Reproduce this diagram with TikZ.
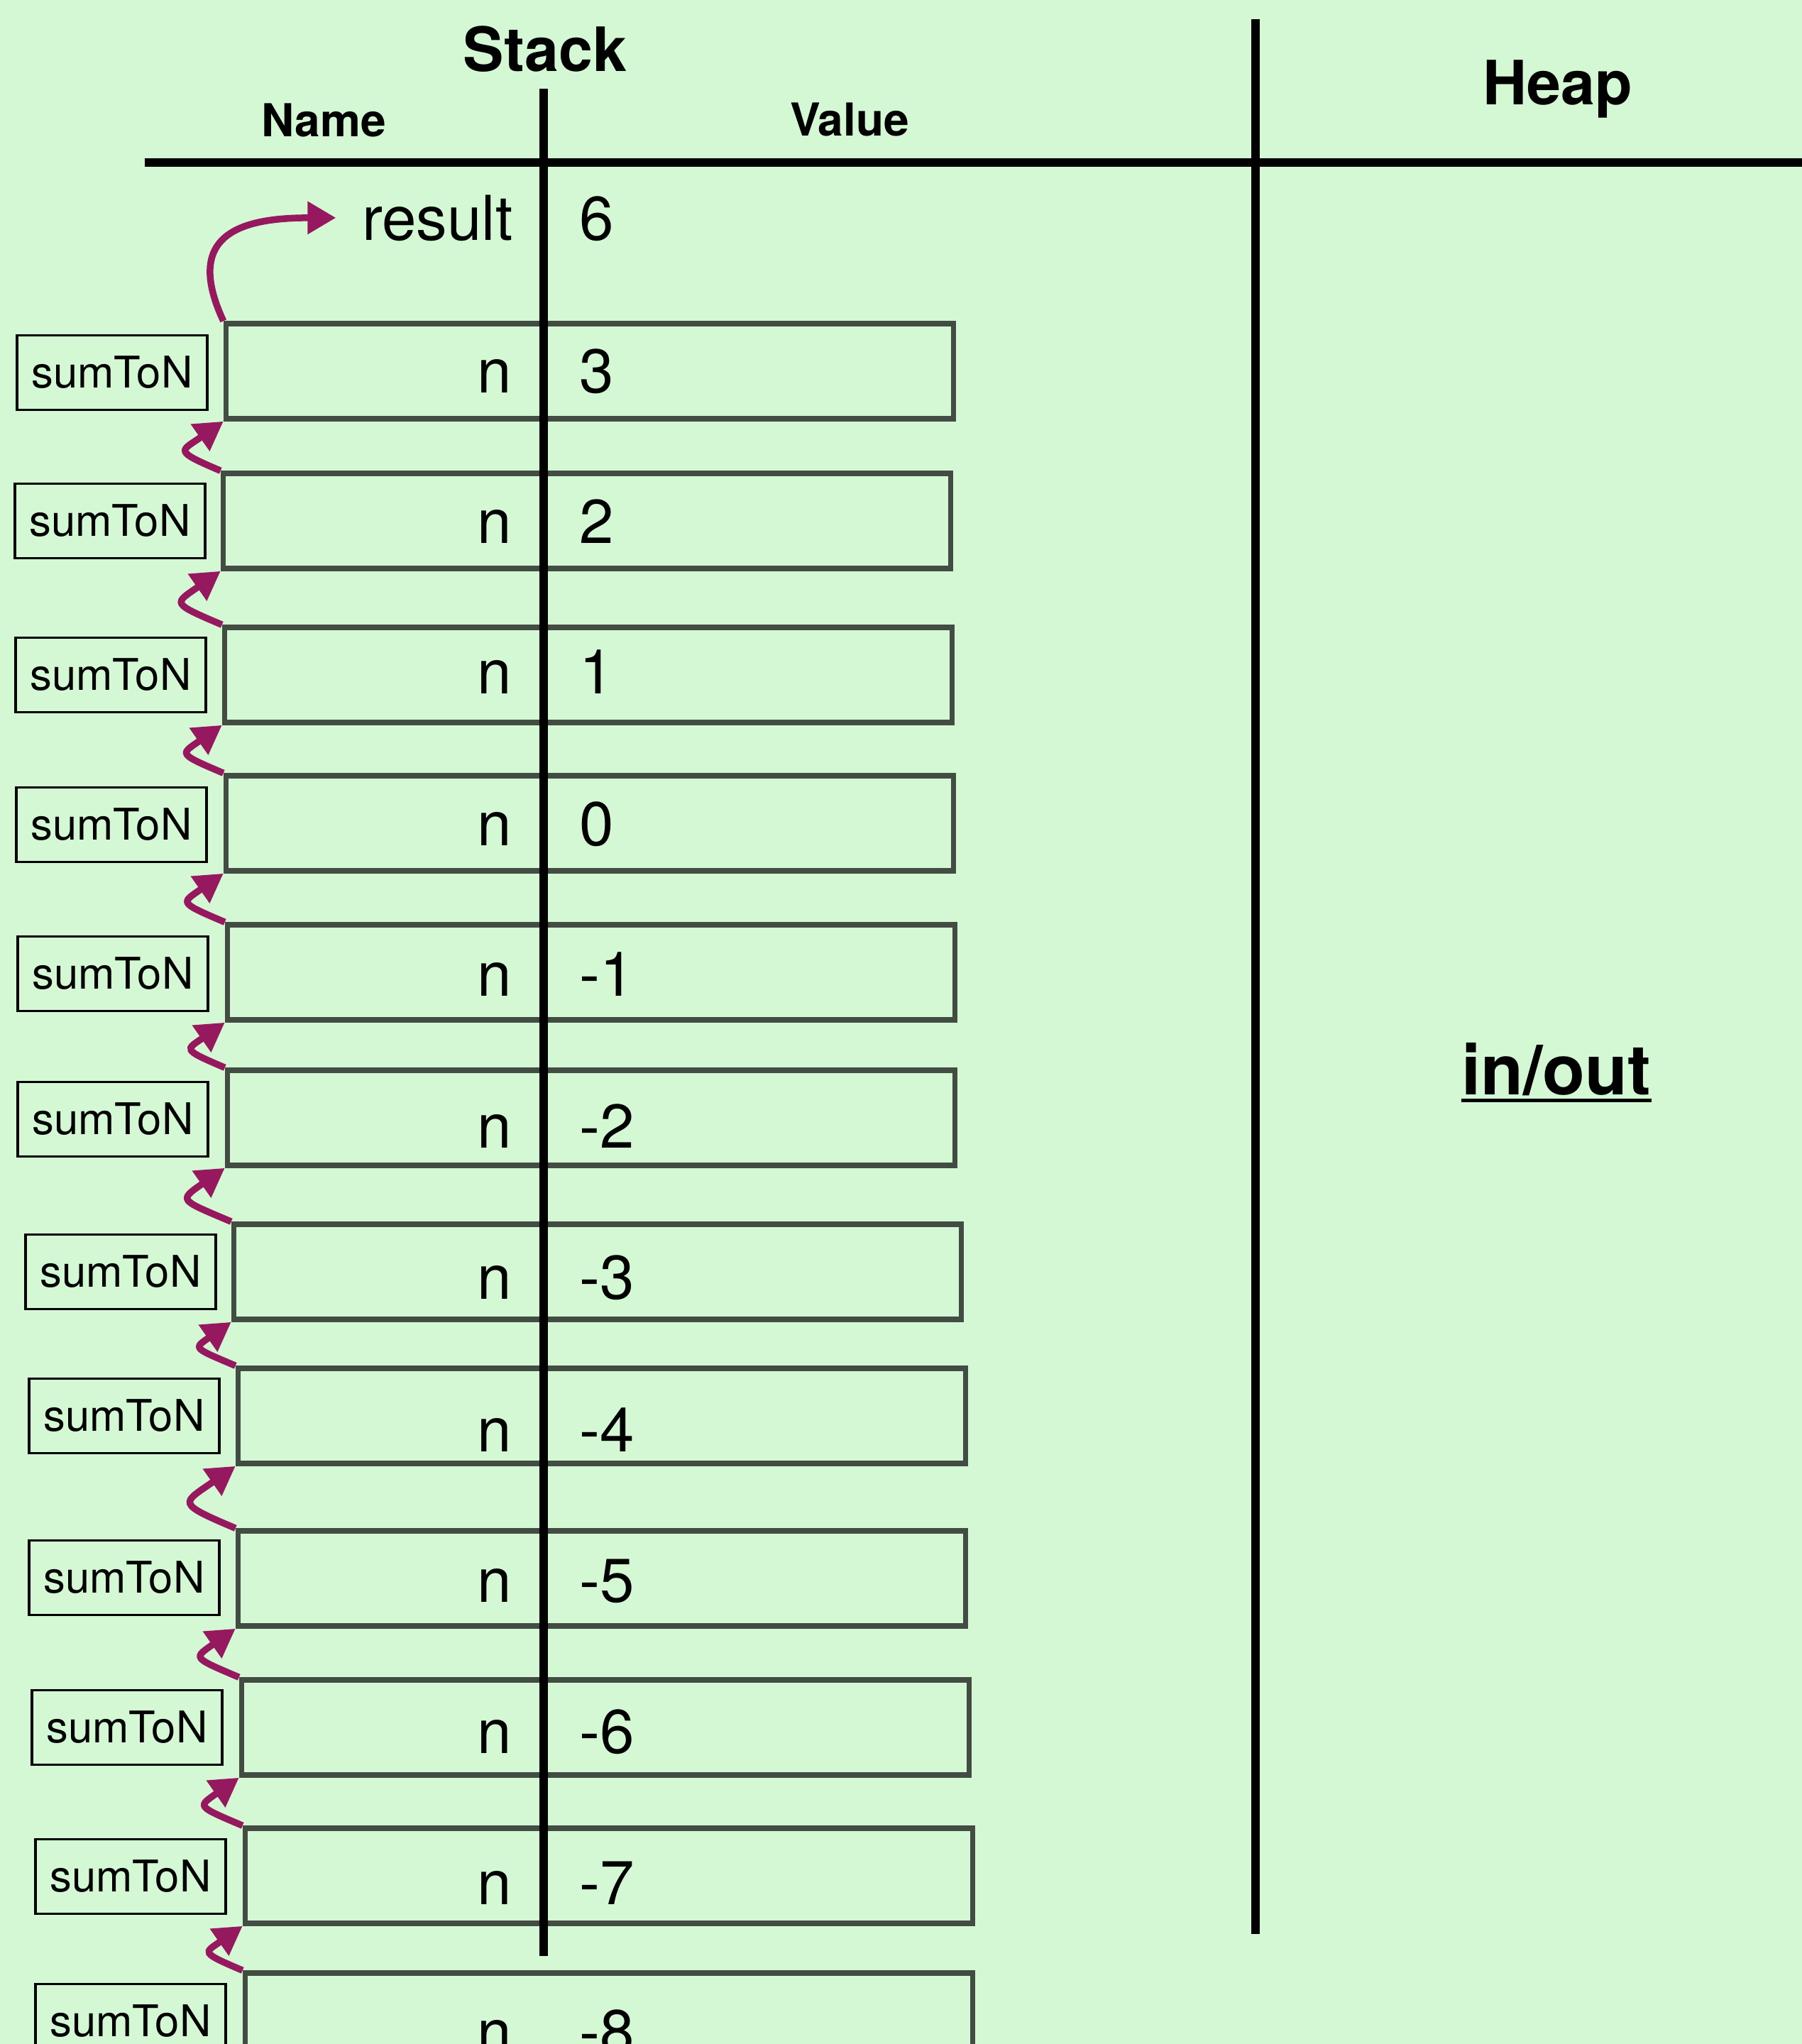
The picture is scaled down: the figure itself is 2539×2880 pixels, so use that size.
\documentclass[tikz,border=0pt]{standalone}
\usepackage{fontspec}
\setmainfont{TeX Gyre Heros}
\usepackage{tikz}
\usetikzlibrary{arrows.meta}
\definecolor{sheet}{RGB}{212,247,212}
\definecolor{framegray}{RGB}{66,76,66}
\definecolor{callpurple}{RGB}{150,24,94}

\begin{document}
\begin{tikzpicture}[
    x=0.1mm, y=0.1mm,
    font=\fontsize{24.8}{28}\selectfont,
    >={Triangle[length=4mm,width=4.4mm]},
    heading/.style={font=\fontsize{24.5}{28}\selectfont\bfseries, anchor=base, inner sep=0},
    colhead/.style={font=\fontsize{18.2}{21}\selectfont\bfseries, anchor=base, inner sep=0},
    frame/.style={rectangle, draw=framegray, line width=0.75mm, minimum width=102.5mm, minimum height=13.4mm, inner sep=0},
    fname/.style={rectangle, draw=black, line width=0.35mm, minimum width=26.8mm, minimum height=10.5mm, inner sep=0, font=\fontsize{17.5}{20}\selectfont},
    var/.style={anchor=base east, inner sep=0},
    val/.style={anchor=base west, inner sep=0},
    rule/.style={line width=1.2mm},
    call/.style={->, draw=callpurple, line width=0.95mm, looseness=2.7}
  ]
  \useasboundingbox (0,0) rectangle (2539,-2880);
  \clip (0,0) rectangle (2539,-2880);
  \fill[sheet] (0,0) rectangle (2539,-2880);

  \node[heading] (stack) at (768,-100) {Stack};
  \node[heading] (heap) at (2195,-147) {Heap};
  \node[colhead] (name) at (456,-192) {Name};
  \node[colhead] (value) at (1197,-191) {Value};
  \node[heading, font=\fontsize{27.9}{32}\selectfont\bfseries] (inout) at (2193,-1542) {in/out};
  \draw[line width=0.5mm] ([yshift=-0.85mm]inout.base west) -- ([yshift=-0.85mm]inout.base east);

  \draw[rule] (204,-229) -- (2539,-229);
  \draw[rule] (1769,-27) -- (1769,-2725);

  \node[var, inner xsep=3.6mm] (result) at (759,-338) {result};
  \node[val] (six) at (816,-338) {6};

  \node[frame] (f1) at (831,-523) {};
  \node[frame] (f2) at (827,-734) {};
  \node[frame] (f3) at (829,-951) {};
  \node[frame] (f4) at (831,-1160) {};
  \node[frame] (f5) at (833,-1370) {};
  \node[frame] (f6) at (833,-1575) {};
  \node[frame] (f7) at (842,-1792) {};
  \node[frame] (f8) at (848,-1995) {};
  \node[frame] (f9) at (848,-2224) {};
  \node[frame] (f10) at (853,-2434) {};
  \node[frame] (f11) at (858,-2643) {};
  \node[frame] (f12) at (858,-2847) {};

  \node[fname] (c1) at (158,-525) {sumToN};
  \node[fname] (c2) at (155,-734) {sumToN};
  \node[fname] (c3) at (156,-951) {sumToN};
  \node[fname] (c4) at (157,-1162) {sumToN};
  \node[fname] (c5) at (159,-1372) {sumToN};
  \node[fname] (c6) at (159,-1577) {sumToN};
  \node[fname] (c7) at (170,-1792) {sumToN};
  \node[fname] (c8) at (175,-1995) {sumToN};
  \node[fname] (c9) at (175,-2223) {sumToN};
  \node[fname] (c10) at (179,-2434) {sumToN};
  \node[fname] (c11) at (184,-2644) {sumToN};
  \node[fname] (c12) at (184,-2848) {sumToN};

  \node[var] (n1) at (722,-553) {n};    \node[val] (v1) at (816,-553) {3};
  \node[var] (n2) at (722,-765) {n};    \node[val] (v2) at (816,-765) {2};
  \node[var] (n3) at (722,-977) {n};    \node[val] (v3) at (816,-977) {1};
  \node[var] (n4) at (722,-1191) {n};   \node[val] (v4) at (816,-1191) {0};
  \node[var] (n5) at (722,-1403) {n};   \node[val] (v5) at (816,-1403) {-1};
  \node[var] (n6) at (722,-1617) {n};   \node[val] (v6) at (816,-1617) {-2};
  \node[var] (n7) at (722,-1830) {n};   \node[val] (v7) at (816,-1830) {-3};
  \node[var] (n8) at (722,-2045) {n};   \node[val] (v8) at (816,-2045) {-4};
  \node[var] (n9) at (722,-2257) {n};   \node[val] (v9) at (816,-2257) {-5};
  \node[var] (n10) at (722,-2470) {n};  \node[val] (v10) at (816,-2470) {-6};
  \node[var] (n11) at (722,-2683) {n};  \node[val] (v11) at (816,-2683) {-7};
  \node[var] (n12) at (722,-2893) {n};  \node[val] (v12) at (816,-2893) {-8};

  \draw[rule] (766,-125) -- (766,-2756);

  \draw[call] (f1.north west) to[out=115, in=180, looseness=1.6] (result.west);
  \draw[call] (f2.north west) to[out=157, in=215] (f1.south west);
  \draw[call] (f3.north west) to[out=157, in=215] (f2.south west);
  \draw[call] (f4.north west) to[out=157, in=215] (f3.south west);
  \draw[call] (f5.north west) to[out=157, in=215] (f4.south west);
  \draw[call] (f6.north west) to[out=157, in=215] (f5.south west);
  \draw[call] (f7.north west) to[out=157, in=215] (f6.south west);
  \draw[call] (f8.north west) to[out=157, in=215] (f7.south west);
  \draw[call] (f9.north west) to[out=157, in=215] (f8.south west);
  \draw[call] (f10.north west) to[out=157, in=215] (f9.south west);
  \draw[call] (f11.north west) to[out=157, in=215] (f10.south west);
  \draw[call] (f12.north west) to[out=157, in=215] (f11.south west);
\end{tikzpicture}
\end{document}
